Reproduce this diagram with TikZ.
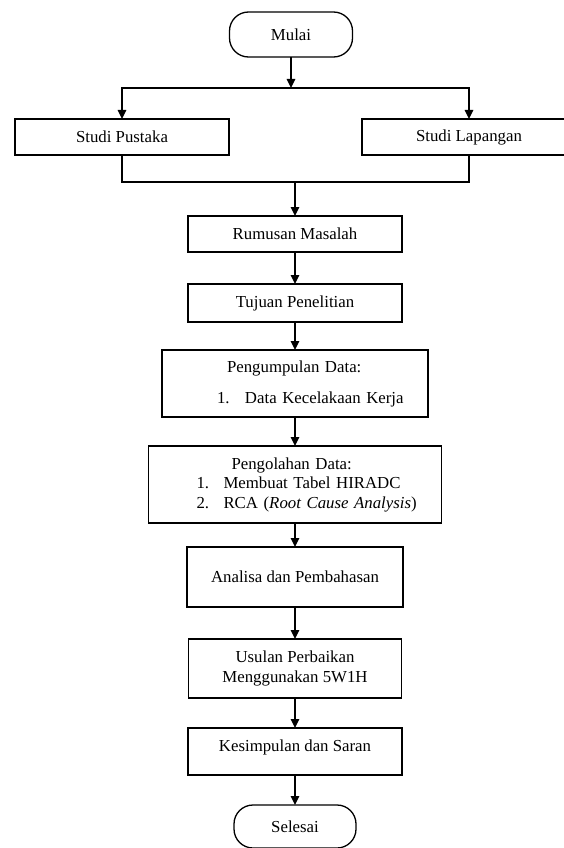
\documentclass[tikz,border=0pt]{standalone}
\usepackage{fontspec}
\setmainfont{Liberation Serif}
\usepackage{tikz}
\usetikzlibrary{positioning,arrows.meta}

\begin{document}
\begin{tikzpicture}
[
x=1pt, y=-1pt,
font=\fontsize{16.8}{19.5}\selectfont,
line width=1.3pt,
term-a/.style={rectangle, rounded corners=19pt, draw, outer sep=0pt, minimum width=123pt, minimum height=45pt},
box-a/.style={rectangle, draw, outer sep=0pt, inner sep=0pt, minimum width=214pt, minimum height=36pt},
list-a/.style={box-a, align=left},
arr-a/.style={-{Triangle[length=9pt, width=8.5pt]}}
]
\useasboundingbox (0,0) rectangle (563,848);
\node (mulai)    [term-a]                                                       at (291,34.5) {Mulai};
\node (pustaka)  [box-a]                                                        at (122,137)  {Studi Pustaka};
\node (lapangan) [box-a]                                                        at (469,137)  {Studi Lapangan};
\node (rumusan)  [box-a]                                                        at (295,234)  {Rumusan Masalah};
\node (tujuan)   [box-a, minimum height=38pt,                   below = 32pt of rumusan] {Tujuan Penelitian};
\node (kumpul)   [list-a, text width=266pt, minimum height=67pt, below = 28pt of tujuan]
  {\hspace*{65pt}Pengumpulan Data:\\[11.5pt]
   \hspace*{55pt}\makebox[28pt][l]{1.}Data Kecelakaan Kerja};
\node (olah)     [list-a, text width=293pt, minimum height=77pt, below = 29pt of kumpul]
  {\hspace*{83pt}Pengolahan Data:\\
   \hspace*{48pt}\makebox[27pt][l]{1.}Membuat Tabel HIRADC\\
   \hspace*{48pt}\makebox[27pt][l]{2.}RCA (\textit{Root Cause Analysis})};
\node (analisa)  [box-a, minimum width=216pt, minimum height=60pt, below = 24pt of olah]    {Analisa dan Pembahasan};
\node (usulan)   [box-a, align=center, minimum width=213pt, minimum height=59pt, below = 32pt of analisa]
  {Usulan Perbaikan\\Menggunakan 5W1H};
\node (simpul)   [box-a, minimum height=47pt, text depth=12pt,  below = 30pt of usulan]  {Kesimpulan dan Saran};
\node (selesai)  [term-a, minimum width=122pt, minimum height=43pt, below = 30pt of simpul] {Selesai};
\coordinate (split) at (291,88);
\coordinate (merge) at (295,182);
\draw [arr-a] (mulai) -- (split);
\draw [arr-a] (split) -| (pustaka);
\draw [arr-a] (split) -| (lapangan);
\draw (pustaka) |- (merge) -| (lapangan);
\draw [arr-a] (merge) -- (rumusan);
\draw [arr-a] (rumusan) -- (tujuan);
\draw [arr-a] (tujuan) -- (kumpul);
\draw [arr-a] (kumpul) -- (olah);
\draw [arr-a] (olah) -- (analisa);
\draw [arr-a] (analisa) -- (usulan);
\draw [arr-a] (usulan) -- (simpul);
\draw [arr-a] (simpul) -- (selesai);
\end{tikzpicture}
\end{document}
